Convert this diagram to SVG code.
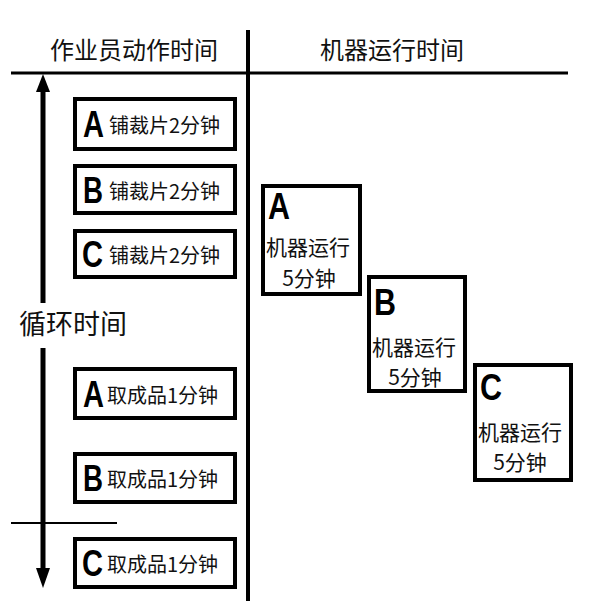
<svg xmlns="http://www.w3.org/2000/svg" width="595" height="613" viewBox="0 0 595 613">
<style>
.cjk{font-family:"Noto Sans CJK SC","Noto Sans",sans-serif;fill:#111}
.hd{font-size:24px}
.lbl{font-size:20px}
.ml{font-size:21px}
.big{font-family:"Liberation Sans",Arial,sans-serif;font-weight:bold;fill:#000;font-size:36px}
.box{fill:#fff;stroke:#000;stroke-width:4}
.ln{stroke:#000;fill:none}
</style>
<rect width="595" height="613" fill="#fff"/>
<g id="connectors">
<line class="ln" x1="11" y1="73" x2="568" y2="73" stroke-width="3"/>
<line class="ln" x1="248" y1="30" x2="248" y2="601" stroke-width="4"/>
<line class="ln" x1="11" y1="523" x2="117" y2="523" stroke-width="2"/>
<line class="ln" x1="43" y1="90" x2="43" y2="303" stroke-width="5"/>
<line class="ln" x1="43" y1="348" x2="43" y2="570" stroke-width="5"/>
<polygon points="43,74 36,92 50,92" fill="#000"/>
<polygon points="43,588 36,568 50,568" fill="#000"/>
</g>
<g id="header-left"><text class="cjk hd" x="134" y="59" text-anchor="middle">作业员动作时间</text></g>
<g id="header-right"><text class="cjk hd" x="392" y="59" text-anchor="middle">机器运行时间</text></g>
<g id="cycle"><text class="cjk" x="73" y="334" text-anchor="middle" font-size="27">循环时间</text></g>
<g id="op-a1"><rect class="box" x="75" y="99" width="160" height="50"/><text class="big" x="83" y="137" textLength="21" lengthAdjust="spacingAndGlyphs">A</text><text class="cjk lbl" x="109" y="133">铺裁片2分钟</text></g>
<g id="op-b1"><rect class="box" x="75" y="166" width="160" height="47"/><text class="big" x="83" y="203" textLength="20" lengthAdjust="spacingAndGlyphs">B</text><text class="cjk lbl" x="109" y="199">铺裁片2分钟</text></g>
<g id="op-c1"><rect class="box" x="75" y="231" width="160" height="46"/><text class="big" x="82" y="267" textLength="21" lengthAdjust="spacingAndGlyphs">C</text><text class="cjk lbl" x="109" y="263">铺裁片2分钟</text></g>
<g id="op-a2"><rect class="box" x="75" y="369" width="160" height="49"/><text class="big" x="83" y="407" textLength="21" lengthAdjust="spacingAndGlyphs">A</text><text class="cjk lbl" x="107" y="403">取成品1分钟</text></g>
<g id="op-b2"><rect class="box" x="75" y="454" width="160" height="48"/><text class="big" x="83" y="491" textLength="20" lengthAdjust="spacingAndGlyphs">B</text><text class="cjk lbl" x="107" y="487">取成品1分钟</text></g>
<g id="op-c2"><rect class="box" x="75" y="539" width="160" height="48"/><text class="big" x="82" y="576" textLength="21" lengthAdjust="spacingAndGlyphs">C</text><text class="cjk lbl" x="107" y="572">取成品1分钟</text></g>
<g id="m-a"><rect class="box" x="263" y="186" width="97" height="108"/><text class="big" x="268" y="219" textLength="22" lengthAdjust="spacingAndGlyphs">A</text><text class="cjk ml" x="308" y="255" text-anchor="middle">机器运行</text><text class="cjk ml" x="309" y="286" text-anchor="middle">5分钟</text></g>
<g id="m-b"><rect class="box" x="369" y="277" width="96" height="114"/><text class="big" x="374" y="315" textLength="22" lengthAdjust="spacingAndGlyphs">B</text><text class="cjk ml" x="414" y="355" text-anchor="middle">机器运行</text><text class="cjk ml" x="415" y="385" text-anchor="middle">5分钟</text></g>
<g id="m-c"><rect class="box" x="475" y="365" width="96" height="115"/><text class="big" x="480" y="400" textLength="22" lengthAdjust="spacingAndGlyphs">C</text><text class="cjk ml" x="520" y="440" text-anchor="middle">机器运行</text><text class="cjk ml" x="520" y="470" text-anchor="middle">5分钟</text></g>
</svg>
